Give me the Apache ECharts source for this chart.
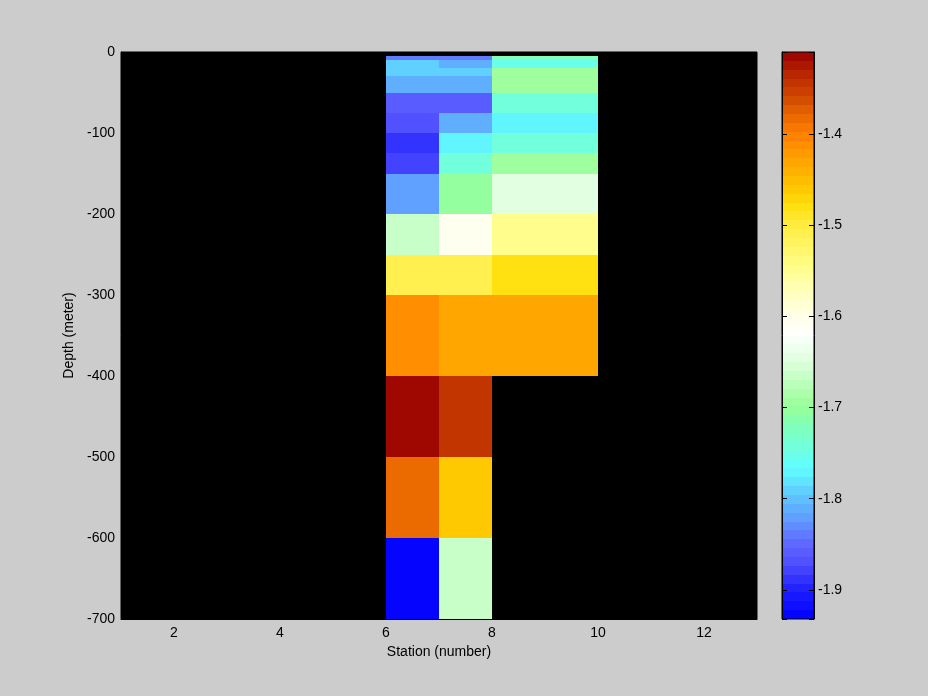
<!DOCTYPE html>
<html>
<head>
<meta charset="utf-8">
<script src="https://cdn.jsdelivr.net/npm/echarts@6/dist/echarts.min.js"></script>
<style>html,body{margin:0;padding:0;background:#cccccc;}#c{width:928px;height:696px;}</style>
</head>
<body>
<div id="c"></div>
<script>
// ---- data ----
const stationEdges = [6, 7, 8, 10];
const depthEdges = [-5, -10, -20, -30, -50, -75, -100, -125, -150, -200, -250, -300, -400, -500, -600, -700];
const station6 = [-1.84, -1.795, -1.793, -1.81, -1.86, -1.872, -1.885, -1.878, -1.82, -1.66, -1.505, -1.415, -1.312, -1.38, -1.93];
const station7 = [-1.84, -1.81, -1.793, -1.81, -1.86, -1.81, -1.775, -1.745, -1.70, -1.61, -1.505, -1.43, -1.34, -1.46, -1.66];
const station8 = [-1.72, -1.75, -1.695, -1.698, -1.745, -1.775, -1.745, -1.695, -1.65, -1.545, -1.48, -1.43, null, null, null];
const xTicks = [2, 4, 6, 8, 10, 12];
const yTicks = [0, -100, -200, -300, -400, -500, -600, -700];
const cbTicks = [-1.9, -1.8, -1.7, -1.6, -1.5, -1.4];
const cMin = -1.932, cMax = -1.310;

// colormap anchors (value -> rgb)
const cmapVals = [-1.932, -1.90, -1.87, -1.85, -1.82, -1.80, -1.775, -1.765, -1.745, -1.72, -1.70, -1.68, -1.66, -1.64, -1.62, -1.60, -1.58, -1.55, -1.52, -1.50, -1.48, -1.46, -1.44, -1.42, -1.40, -1.38, -1.36, -1.34, -1.32, -1.310];
const cmapRGB = [[0,0,255],[32,32,255],[80,80,255],[96,104,255],[96,160,255],[96,192,255],[96,240,255],[96,255,255],[112,255,224],[128,255,184],[152,255,152],[176,255,176],[208,255,208],[232,255,232],[255,255,255],[255,255,232],[255,255,200],[255,255,144],[255,244,96],[255,236,64],[255,224,16],[255,200,0],[255,176,0],[255,152,0],[255,128,0],[232,104,0],[208,72,0],[192,48,0],[168,16,0],[150,0,0]];
const nLevels = 64;

function interp(v) {
  if (v <= cmapVals[0]) return cmapRGB[0];
  for (let i = 1; i < cmapVals.length; i++) {
    if (v <= cmapVals[i]) {
      const t = (v - cmapVals[i-1]) / (cmapVals[i] - cmapVals[i-1]);
      const a = cmapRGB[i-1], b = cmapRGB[i];
      return [0,1,2].map(k => Math.round(a[k] + (b[k]-a[k]) * t));
    }
  }
  return cmapRGB[cmapRGB.length-1];
}
const palette = [];
for (let i = 0; i < nLevels; i++) {
  const v = cMin + (i + 0.5) * (cMax - cMin) / nLevels;
  const c = interp(v);
  palette.push('rgb(' + c.join(',') + ')');
}
function colorOf(v) {
  let idx = Math.floor((v - cMin) / (cMax - cMin) * nLevels);
  idx = Math.max(0, Math.min(nLevels - 1, idx));
  return palette[idx];
}

const columns = [station6, station7, station8];
const cells = [];
columns.forEach((col, ci) => {
  col.forEach((v, ri) => {
    if (v === null) return;
    cells.push([stationEdges[ci], stationEdges[ci+1], depthEdges[ri], depthEdges[ri+1], v]);
  });
});
const bands = [];
for (let i = 0; i < nLevels; i++) {
  bands.push([cMin + i * (cMax - cMin) / nLevels, cMin + (i + 1) * (cMax - cMin) / nLevels, i]);
}

function rectFrom(p0, p1) {
  const x0 = Math.round(Math.min(p0[0], p1[0])), x1 = Math.round(Math.max(p0[0], p1[0]));
  const y0 = Math.round(Math.min(p0[1], p1[1])), y1 = Math.round(Math.max(p0[1], p1[1]));
  return {x: x0, y: y0, width: x1 - x0, height: y1 - y0};
}

const font = 'Liberation Sans, Arial, sans-serif';
const chart = echarts.init(document.getElementById('c'), null, {renderer: 'canvas'});
chart.setOption({
  backgroundColor: '#cccccc',
  animation: false,
  grid: [
    {left: 121, right: 171, top: 52, bottom: 77, show: true, backgroundColor: '#000', borderColor: '#000', borderWidth: 1, containLabel: false},
    {left: 782, right: 114, top: 52, bottom: 77, show: true, backgroundColor: 'transparent', borderColor: '#000', borderWidth: 1, z: 10, containLabel: false}
  ],
  xAxis: [
    {type: 'value', gridIndex: 0, min: 1, max: 13,
      name: 'Station (number)', nameLocation: 'middle', nameGap: 26,
      nameTextStyle: {color: '#000', fontFamily: font, fontSize: 14},
      axisLine: {show: true, onZero: false, lineStyle: {color: '#000'}},
      axisTick: {show: false},
      axisLabel: {color: '#000', fontFamily: font, fontSize: 14, margin: 7, customValues: xTicks},
      splitLine: {show: false}},
    {type: 'value', gridIndex: 1, min: 0, max: 1, show: false, axisLine: {onZero: false}}
  ],
  yAxis: [
    {type: 'value', gridIndex: 0, min: -700, max: 0, interval: 100,
      name: 'Depth (meter)', nameLocation: 'middle', nameGap: 36, nameRotate: 90,
      nameTextStyle: {color: '#000', fontFamily: font, fontSize: 14},
      axisLine: {show: true, onZero: false, lineStyle: {color: '#000'}},
      axisTick: {show: false},
      axisLabel: {color: '#000', fontFamily: font, fontSize: 14, margin: 6, customValues: yTicks},
      splitLine: {show: false}},
    {type: 'value', gridIndex: 1, min: cMin, max: cMax, position: 'right', z: 20, splitNumber: 6,
      axisLine: {show: true, onZero: false, lineStyle: {color: '#000'}},
      axisTick: {show: true, inside: true, length: 5, lineStyle: {color: '#000'}},
      axisLabel: {color: '#000', fontFamily: font, fontSize: 14, margin: 4, customValues: cbTicks,
        formatter: v => v.toFixed(1)},
      splitLine: {show: false}},
    {type: 'value', gridIndex: 1, min: cMin, max: cMax, position: 'left', z: 20, splitNumber: 6,
      axisLine: {show: true, onZero: false, lineStyle: {color: '#000'}},
      axisTick: {show: true, inside: true, length: 5, lineStyle: {color: '#000'}},
      axisLabel: {show: false},
      splitLine: {show: false}}
  ],
  series: [
    {type: 'custom', xAxisIndex: 0, yAxisIndex: 0, data: cells, z: 1,
      renderItem: function (params, api) {
        const p0 = api.coord([api.value(0), api.value(2)]);
        const p1 = api.coord([api.value(1), api.value(3)]);
        return {type: 'rect', shape: rectFrom(p0, p1),
          style: {fill: colorOf(api.value(4))}};
      }},
    {type: 'custom', xAxisIndex: 1, yAxisIndex: 1, data: bands, z: 1,
      renderItem: function (params, api) {
        const p0 = api.coord([0, api.value(0)]);
        const p1 = api.coord([1, api.value(1)]);
        return {type: 'rect', shape: rectFrom(p0, p1),
          style: {fill: palette[api.value(2)]}};
      }}
  ]
});
</script>
</body>
</html>
